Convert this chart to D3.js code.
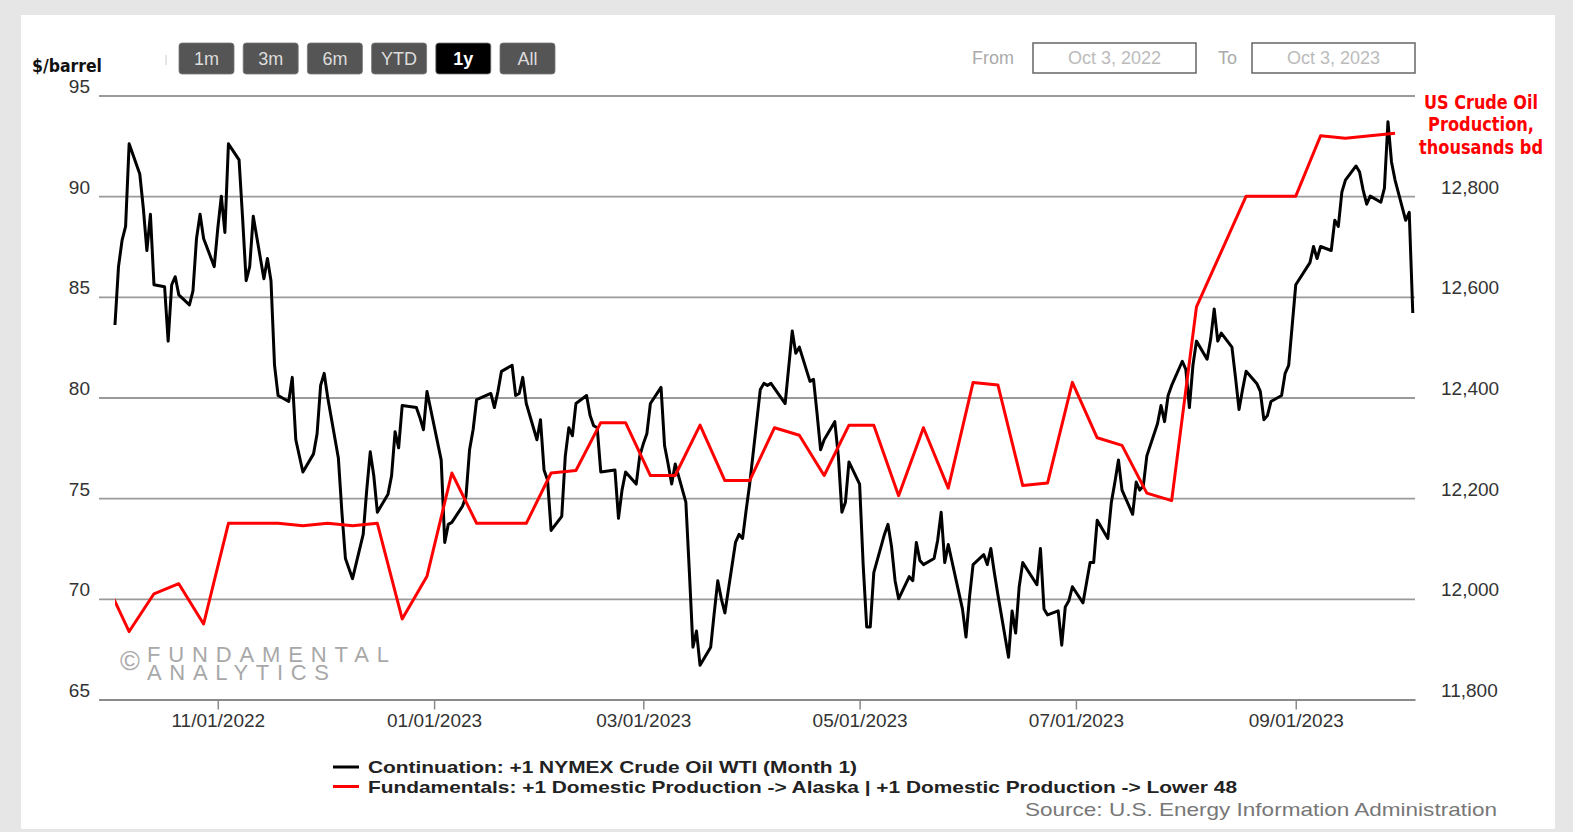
<!DOCTYPE html>
<html>
<head>
<meta charset="utf-8">
<script src="https://cdn.jsdelivr.net/npm/d3@7"></script>
<style>
  body { margin: 0; background: #e6e6e6; }
  svg { display: block; font-family: "Liberation Sans", Arial, sans-serif; }
</style>
</head>
<body>
<div id="chart"></div>
<script>
// WTI front month, $/barrel (daily)
const wtiDates = [
  "2022-10-03","2022-10-04","2022-10-05","2022-10-06","2022-10-07","2022-10-10","2022-10-11","2022-10-12","2022-10-13","2022-10-14",
  "2022-10-17","2022-10-18","2022-10-19","2022-10-20","2022-10-21","2022-10-24","2022-10-25","2022-10-26","2022-10-27","2022-10-28",
  "2022-10-31","2022-11-01","2022-11-02","2022-11-03","2022-11-04","2022-11-07","2022-11-08","2022-11-09","2022-11-10","2022-11-11",
  "2022-11-14","2022-11-15","2022-11-16","2022-11-17","2022-11-18","2022-11-21","2022-11-22","2022-11-23","2022-11-25","2022-11-28",
  "2022-11-29","2022-11-30","2022-12-01","2022-12-02","2022-12-05","2022-12-06","2022-12-07","2022-12-08","2022-12-09","2022-12-12",
  "2022-12-13","2022-12-14","2022-12-15","2022-12-16","2022-12-19","2022-12-20","2022-12-21","2022-12-22","2022-12-23","2022-12-27",
  "2022-12-28","2022-12-29","2022-12-30","2023-01-03","2023-01-04","2023-01-05","2023-01-06","2023-01-09","2023-01-10","2023-01-11",
  "2023-01-12","2023-01-13","2023-01-17","2023-01-18","2023-01-19","2023-01-20","2023-01-23","2023-01-24","2023-01-25","2023-01-26",
  "2023-01-27","2023-01-30","2023-01-31","2023-02-01","2023-02-02","2023-02-03","2023-02-06","2023-02-07","2023-02-08","2023-02-09",
  "2023-02-10","2023-02-13","2023-02-14","2023-02-15","2023-02-16","2023-02-17","2023-02-21","2023-02-22","2023-02-23","2023-02-24",
  "2023-02-27","2023-02-28","2023-03-01","2023-03-02","2023-03-03","2023-03-06","2023-03-07","2023-03-08","2023-03-09","2023-03-10",
  "2023-03-13","2023-03-14","2023-03-15","2023-03-16","2023-03-17","2023-03-20","2023-03-21","2023-03-22","2023-03-23","2023-03-24",
  "2023-03-27","2023-03-28","2023-03-29","2023-03-30","2023-03-31","2023-04-03","2023-04-04","2023-04-05","2023-04-06","2023-04-10",
  "2023-04-11","2023-04-12","2023-04-13","2023-04-14","2023-04-17","2023-04-18","2023-04-19","2023-04-20","2023-04-21","2023-04-24",
  "2023-04-25","2023-04-26","2023-04-27","2023-04-28","2023-05-01","2023-05-02","2023-05-03","2023-05-04","2023-05-05","2023-05-08",
  "2023-05-09","2023-05-10","2023-05-11","2023-05-12","2023-05-15","2023-05-16","2023-05-17","2023-05-18","2023-05-19","2023-05-22",
  "2023-05-23","2023-05-24","2023-05-25","2023-05-26","2023-05-30","2023-05-31","2023-06-01","2023-06-02","2023-06-05","2023-06-06",
  "2023-06-07","2023-06-08","2023-06-09","2023-06-12","2023-06-13","2023-06-14","2023-06-15","2023-06-16","2023-06-20","2023-06-21",
  "2023-06-22","2023-06-23","2023-06-26","2023-06-27","2023-06-28","2023-06-29","2023-06-30","2023-07-03","2023-07-05","2023-07-06",
  "2023-07-07","2023-07-10","2023-07-11","2023-07-12","2023-07-13","2023-07-14","2023-07-17","2023-07-18","2023-07-19","2023-07-20",
  "2023-07-21","2023-07-24","2023-07-25","2023-07-26","2023-07-27","2023-07-28","2023-07-31","2023-08-01","2023-08-02","2023-08-03",
  "2023-08-04","2023-08-07","2023-08-08","2023-08-09","2023-08-10","2023-08-11","2023-08-14","2023-08-15","2023-08-16","2023-08-17",
  "2023-08-18","2023-08-21","2023-08-22","2023-08-23","2023-08-24","2023-08-25","2023-08-28","2023-08-29","2023-08-30","2023-08-31",
  "2023-09-01","2023-09-05","2023-09-06","2023-09-07","2023-09-08","2023-09-11","2023-09-12","2023-09-13","2023-09-14","2023-09-15",
  "2023-09-18","2023-09-19","2023-09-20","2023-09-21","2023-09-22","2023-09-25","2023-09-26","2023-09-27","2023-09-28","2023-09-29",
  "2023-10-02","2023-10-03","2023-10-04"
];
const wtiPrices = [
  83.6, 86.5, 87.8, 88.5, 92.6, 91.1, 89.4, 87.3, 89.1, 85.6,
  85.5, 82.8, 85.6, 86.0, 85.1, 84.6, 85.3, 87.9, 89.1, 87.9,
  86.5, 88.4, 90.0, 88.2, 92.6, 91.8, 88.9, 85.8, 86.5, 89.0,
  85.9, 86.9, 85.8, 81.6, 80.1, 79.8, 81.0, 77.9, 76.3, 77.2,
  78.2, 80.6, 81.2, 80.0, 77.0, 74.3, 72.0, 71.5, 71.0, 73.2,
  75.4, 77.3, 76.1, 74.3, 75.2, 76.1, 78.3, 77.5, 79.6, 79.5,
  79.0, 78.4, 80.3, 76.9, 72.8, 73.7, 73.8, 74.6, 75.1, 77.4,
  78.4, 79.9, 80.2, 79.5, 80.3, 81.3, 81.6, 80.1, 80.2, 81.0,
  79.7, 77.9, 78.9, 76.4, 75.9, 73.4, 74.1, 77.1, 78.5, 78.1,
  79.7, 80.1, 79.1, 78.6, 78.5, 76.3, 76.4, 74.0, 75.4, 76.3,
  75.7, 77.1, 77.7, 78.2, 79.7, 80.5, 77.6, 76.7, 75.7, 76.7,
  74.8, 71.3, 67.6, 68.4, 66.7, 67.6, 69.3, 70.9, 70.0, 69.3,
  72.8, 73.2, 73.0, 74.4, 75.7, 80.4, 80.7, 80.6, 80.7, 79.7,
  81.5, 83.3, 82.2, 82.5, 80.8, 80.9, 79.2, 77.4, 77.9, 78.8,
  77.1, 74.3, 74.8, 76.8, 75.7, 71.7, 68.6, 68.6, 71.3, 73.2,
  73.7, 72.6, 70.9, 70.0, 71.1, 70.9, 72.8, 71.9, 71.7, 72.0,
  72.9, 74.3, 71.8, 72.7, 69.5, 68.1, 70.1, 71.7, 72.2, 71.7,
  72.5, 71.3, 70.2, 67.1, 69.4, 68.3, 70.6, 71.8, 70.7, 72.5,
  69.5, 69.2, 69.4, 67.7, 69.6, 69.9, 70.6, 69.8, 71.8, 71.8,
  73.9, 73.0, 74.8, 75.8, 76.9, 75.4, 74.2, 75.8, 75.4, 75.6,
  77.1, 78.7, 79.6, 78.8, 80.1, 80.6, 81.8, 81.4, 79.5, 81.6,
  82.8, 81.9, 82.9, 84.4, 82.8, 83.2, 82.5, 81.0, 79.4, 80.4,
  81.3, 80.7, 80.3, 78.9, 79.1, 79.8, 80.1, 81.2, 81.6, 83.6,
  85.6, 86.7, 87.5, 86.9, 87.5, 87.3, 88.8, 88.5, 90.2, 90.8,
  91.5, 91.2, 90.3, 89.6, 90.0, 89.7, 90.4, 93.7, 91.7, 90.8,
  88.8, 89.2, 84.2
];

// US crude production, thousands b/d (weekly, Alaska + Lower 48)
const prodDates = [
  "2022-09-30","2022-10-07","2022-10-14","2022-10-21","2022-10-28","2022-11-04","2022-11-11","2022-11-18","2022-11-25","2022-12-02",
  "2022-12-09","2022-12-16","2022-12-23","2022-12-30","2023-01-06","2023-01-13","2023-01-20","2023-01-27","2023-02-03","2023-02-10",
  "2023-02-17","2023-02-24","2023-03-03","2023-03-10","2023-03-17","2023-03-24","2023-03-31","2023-04-07","2023-04-14","2023-04-21",
  "2023-04-28","2023-05-05","2023-05-12","2023-05-19","2023-05-26","2023-06-02","2023-06-09","2023-06-16","2023-06-23","2023-06-30",
  "2023-07-07","2023-07-14","2023-07-21","2023-07-28","2023-08-04","2023-08-11","2023-08-18","2023-08-25","2023-09-01","2023-09-08",
  "2023-09-15","2023-09-22","2023-09-29"
];
const prodValues = [
  12040, 11935, 12010, 12030, 11950, 12150, 12150, 12150, 12145, 12150,
  12145, 12150, 11960, 12045, 12250, 12150, 12150, 12150, 12250, 12255,
  12350, 12350, 12245, 12245, 12345, 12235, 12235, 12340, 12325, 12245,
  12345, 12345, 12205, 12340, 12220, 12430, 12425, 12225, 12230, 12430,
  12320, 12305, 12210, 12195, 12580, 12690, 12800, 12800, 12800, 12920,
  12915, 12920, 12925
];

const leftTicks = [65, 70, 75, 80, 85, 90, 95];
const rightTicks = [11800, 12000, 12200, 12400, 12600, 12800];
const xTickLabels = ["2022-11-01", "2023-01-01", "2023-03-01", "2023-05-01", "2023-07-01", "2023-09-01"];
const rangeButtons = ["1m", "3m", "6m", "YTD", "1y", "All"];
const legendItems = [
  "Continuation: +1 NYMEX Crude Oil WTI (Month 1)",
  "Fundamentals: +1 Domestic Production -> Alaska | +1 Domestic Production -> Lower 48"
];

const W = 1573, H = 832;
const plotLeft = 99, plotRight = 1415, plotTop = 95.5, plotBottom = 699.5;
const parse = d3.timeParse("%Y-%m-%d");

const svg = d3.select('#chart').append('svg')
    .attr('width', W)
    .attr('height', H);

svg.append('rect').attr('width', W).attr('height', H).attr('fill', '#e6e6e6');
svg.append('rect').attr('x', 21).attr('y', 15).attr('width', 1534).attr('height', 814).attr('fill', '#fff');

const x = d3.scaleTime()
    .domain([new Date(2022, 8, 28, 12), new Date(2023, 9, 4, 15)])
    .range([plotLeft, plotRight]);
const yL = d3.scaleLinear().domain([65, 95]).range([plotBottom, plotTop]);
const yR = d3.scaleLinear().domain([11800, 13000]).range([plotBottom, plotTop]);

// gridlines
svg.append('g')
    .attr('transform', `translate(${plotLeft},0)`)
    .call(d3.axisLeft(yL).tickValues(leftTicks).tickSize(-(plotRight - plotLeft)).tickFormat(''))
    .call(g => g.select('.domain').remove())
    .call(g => g.selectAll('line').attr('stroke', '#9a9a9a').attr('stroke-width', 1.8));

// left labels
svg.append('g')
    .attr('transform', `translate(${plotLeft},0)`)
    .call(d3.axisLeft(yL).tickValues(leftTicks).tickSize(0).tickPadding(9))
    .call(g => g.select('.domain').remove())
    .call(g => g.selectAll('text').attr('dy', null).attr('y', -3)
        .attr('fill', '#333').style('font-size', '19px'));

// right labels
svg.append('g')
    .attr('transform', `translate(${plotRight},0)`)
    .call(d3.axisRight(yR).tickValues(rightTicks).tickSize(0).tickPadding(26).tickFormat(d3.format(',')))
    .call(g => g.select('.domain').remove())
    .call(g => g.selectAll('text').attr('dy', null).attr('y', -3)
        .attr('fill', '#333').style('font-size', '19px'));

// x axis
svg.append('g')
    .attr('transform', `translate(0,${plotBottom})`)
    .call(d3.axisBottom(x).tickValues(xTickLabels.map(parse)).tickSize(10).tickSizeOuter(0)
        .tickFormat(d3.timeFormat('%m/%d/%Y')))
    .call(g => g.select('.domain').attr('stroke', '#8a8a8a').attr('stroke-width', 1.8))
    .call(g => g.selectAll('line').attr('stroke', '#8a8a8a').attr('stroke-width', 1.5))
    .call(g => g.selectAll('text').attr('dy', null).attr('y', 27)
        .attr('fill', '#333').style('font-size', '19px'));

// watermark
const wm = svg.append('g').attr('fill', '#a8a8a8');
wm.append('text').attr('x', 120).attr('y', 670).style('font-size', '27px').text('©');
const wmText = wm.append('text').style('font-size', '22px');
wmText.append('tspan').attr('x', 147).attr('y', 662)
    .attr('textLength', 242).attr('lengthAdjust', 'spacing').text('FUNDAMENTAL');
wmText.append('tspan').attr('x', 147).attr('y', 680)
    .attr('textLength', 182).attr('lengthAdjust', 'spacing').text('ANALYTICS');

// series
const wtiData = wtiDates.map((d, i) => ({ date: parse(d), value: wtiPrices[i] }));
const prodData = prodDates.map((d, i) => ({ date: parse(d), value: prodValues[i] }));

svg.append('clipPath').attr('id', 'plot-clip')
    .append('rect')
    .attr('x', x(parse(wtiDates[0])))
    .attr('y', 0)
    .attr('width', plotRight - x(parse(wtiDates[0])))
    .attr('height', H);

const wtiLine = d3.line().x(d => x(d.date)).y(d => yL(d.value));
const prodLine = d3.line().x(d => x(d.date)).y(d => yR(d.value));

svg.append('path')
    .datum(wtiData)
    .attr('d', wtiLine)
    .attr('fill', 'none')
    .attr('stroke', '#000')
    .attr('stroke-width', 3)
    .attr('stroke-linejoin', 'round');

svg.append('path')
    .datum(prodData)
    .attr('d', prodLine)
    .attr('clip-path', 'url(#plot-clip)')
    .attr('fill', 'none')
    .attr('stroke', '#ff0000')
    .attr('stroke-width', 3)
    .attr('stroke-linejoin', 'round');

// axis titles
svg.append('text')
    .attr('x', 32).attr('y', 72)
    .style('font-family', '"Liberation Sans Narrow", "DejaVu Sans Condensed", sans-serif')
    .style('font-size', '18px').style('font-weight', 'bold')
    .attr('textLength', 70).attr('lengthAdjust', 'spacingAndGlyphs')
    .attr('fill', '#111')
    .text('$/barrel');

const note = svg.append('g')
    .attr('fill', '#ff0000')
    .attr('text-anchor', 'middle')
    .style('font-family', '"Liberation Sans Narrow", "DejaVu Sans Condensed", sans-serif')
    .style('font-size', '20px').style('font-weight', 'bold');
[['US Crude Oil', 109, 114], ['Production,', 131, 106], ['thousands bd', 154, 124]].forEach(r => {
    note.append('text').attr('x', 1481).attr('y', r[1])
        .attr('textLength', r[2]).attr('lengthAdjust', 'spacingAndGlyphs').text(r[0]);
});

// range selector buttons
svg.append('line').attr('x1', 166).attr('x2', 166).attr('y1', 55).attr('y2', 65)
    .attr('stroke', '#ddd').attr('stroke-width', 1.5);
const btn = svg.selectAll('.btn')
    .data(rangeButtons)
    .enter().append('g')
    .attr('class', 'btn')
    .attr('transform', (d, i) => `translate(${179 + i * 64.2},43)`);
btn.append('rect')
    .attr('width', 55).attr('height', 31).attr('rx', 3)
    .attr('fill', d => d === '1y' ? '#000' : '#555')
    .attr('stroke', '#777').attr('stroke-width', 0.8);
btn.append('text')
    .attr('x', 27.5).attr('y', 22).attr('text-anchor', 'middle')
    .style('font-size', '18px')
    .style('font-weight', d => d === '1y' ? 'bold' : 'normal')
    .attr('fill', d => d === '1y' ? '#fff' : '#ddd')
    .text(d => d);

// date inputs
const inputs = [['From', 972, 1033, 'Oct 3, 2022'], ['To', 1218, 1252, 'Oct 3, 2023']];
inputs.forEach(r => {
    svg.append('text').attr('x', r[1]).attr('y', 64)
        .style('font-size', '18px').attr('fill', '#aaa').text(r[0]);
    svg.append('rect').attr('x', r[2]).attr('y', 43).attr('width', 163).attr('height', 30)
        .attr('fill', '#fff').attr('stroke', '#666').attr('stroke-width', 1.5);
    svg.append('text').attr('x', r[2] + 81.5).attr('y', 64).attr('text-anchor', 'middle')
        .style('font-size', '18px').attr('fill', '#bbb').text(r[3]);
});

// legend
const legendColors = ['#000', '#ff0000'];
const legendWidths = [489, 869];
const lg = svg.selectAll('.legend')
    .data(legendItems)
    .enter().append('g')
    .attr('class', 'legend')
    .attr('transform', (d, i) => `translate(333,${767 + i * 19.5})`);
lg.append('line')
    .attr('x1', 0).attr('x2', 26).attr('y1', 0).attr('y2', 0)
    .attr('stroke', (d, i) => legendColors[i]).attr('stroke-width', 3);
lg.append('text')
    .attr('x', 35).attr('y', 6)
    .style('font-size', '17px').style('font-weight', 'bold')
    .attr('fill', '#222')
    .attr('textLength', (d, i) => legendWidths[i]).attr('lengthAdjust', 'spacingAndGlyphs')
    .text(d => d);

svg.append('text')
    .attr('x', 1497).attr('y', 816).attr('text-anchor', 'end')
    .style('font-size', '19px').attr('fill', '#777')
    .attr('textLength', 472).attr('lengthAdjust', 'spacingAndGlyphs')
    .text('Source: U.S. Energy Information Administration');
</script>
</body>
</html>
